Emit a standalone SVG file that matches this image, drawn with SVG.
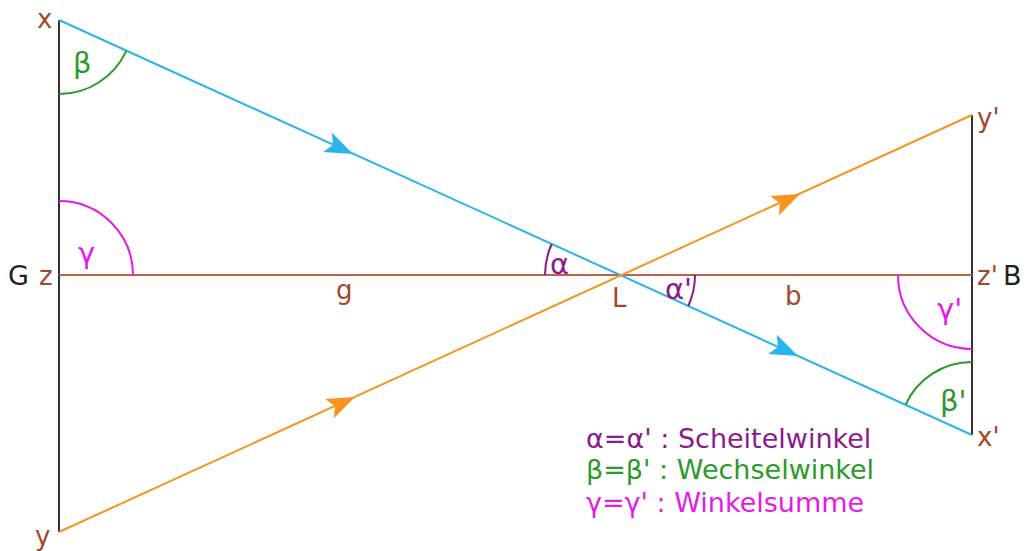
<svg xmlns="http://www.w3.org/2000/svg" width="1029" height="551" viewBox="0 0 1029 551">
<style>
text{font-family:"DejaVu Sans","Verdana",sans-serif;}
.lbl{fill:#a0492c;font-size:26px;}
.blk{fill:#222;font-size:27px;}
.arc{fill:none;stroke-width:2;}
.g{stroke:#2a9a2a;} .m{stroke:#e619e6;} .p{stroke:#8c1a8c;}
.tg{fill:#2a9a2a;} .tm{fill:#e619e6;} .tp{fill:#8c1a8c;}
.gr{font-size:29px;}
.leg{font-size:27px;}
</style>
<defs>
<path id="ah" d="M0 0 L-28 -10.5 L-22 0 L-28 10.5 Z"/>
</defs>
<rect width="1029" height="551" fill="#fff"/>
<g id="connectors">
<line x1="59" y1="20" x2="59" y2="532" stroke="#333" stroke-width="2"/>
<line x1="972" y1="115" x2="972" y2="435" stroke="#333" stroke-width="2"/>
<line x1="59" y1="275" x2="972" y2="275" stroke="#b5664c" stroke-width="2"/>
<line x1="59" y1="20" x2="972" y2="435" stroke="#29b4ee" stroke-width="2"/>
<line x1="59" y1="532" x2="972" y2="115" stroke="#f7931e" stroke-width="2"/>
<use href="#ah" fill="#29b4ee" transform="translate(353,154) rotate(24.44)"/>
<use href="#ah" fill="#29b4ee" transform="translate(798,356) rotate(24.44)"/>
<use href="#ah" fill="#f7931e" transform="translate(355,397) rotate(-24.55)"/>
<use href="#ah" fill="#f7931e" transform="translate(800,194) rotate(-24.55)"/>
</g>
<g id="angles">
<path class="arc g" d="M59 94 A74 74 0 0 0 126.4 50.6"/>
<path class="arc m" d="M59 201 A74 74 0 0 1 133 275"/>
<path class="arc p" d="M545 275 A75 75 0 0 1 551.7 244"/>
<path class="arc p" d="M695 275 A75 75 0 0 1 688.3 306"/>
<path class="arc m" d="M898 275 A74 74 0 0 0 972 349"/>
<path class="arc g" d="M972 362 A73 73 0 0 0 905.5 404.8"/>
<text class="tg gr" x="73" y="73">β</text>
<text class="tm gr" x="78" y="263">γ</text>
<text class="tp gr" x="550" y="274">α</text>
<text class="tp gr" x="665" y="299">α'</text>
<text class="tm gr" x="937" y="319">γ'</text>
<text class="tg gr" x="940" y="411">β'</text>
</g>
<g id="labels">
<text class="lbl" x="37" y="28">x</text>
<text class="blk" x="8" y="285">G</text>
<text class="lbl" x="39" y="285">z</text>
<text class="lbl" x="35" y="545">y</text>
<text class="lbl" x="336" y="299">g</text>
<text class="lbl" x="612" y="307">L</text>
<text class="lbl" x="785" y="305">b</text>
<text class="lbl" x="977" y="127">y'</text>
<text class="lbl" x="977" y="285">z'</text>
<text class="blk" x="1003" y="285">B</text>
<text class="lbl" x="977" y="446">x'</text>
</g>
<g id="legend">
<text class="leg tp" x="586" y="448">α=α' : Scheitelwinkel</text>
<text class="leg tg" x="586" y="479">β=β' : Wechselwinkel</text>
<text class="leg tm" x="586" y="512">γ=γ' : Winkelsumme</text>
</g>
</svg>
